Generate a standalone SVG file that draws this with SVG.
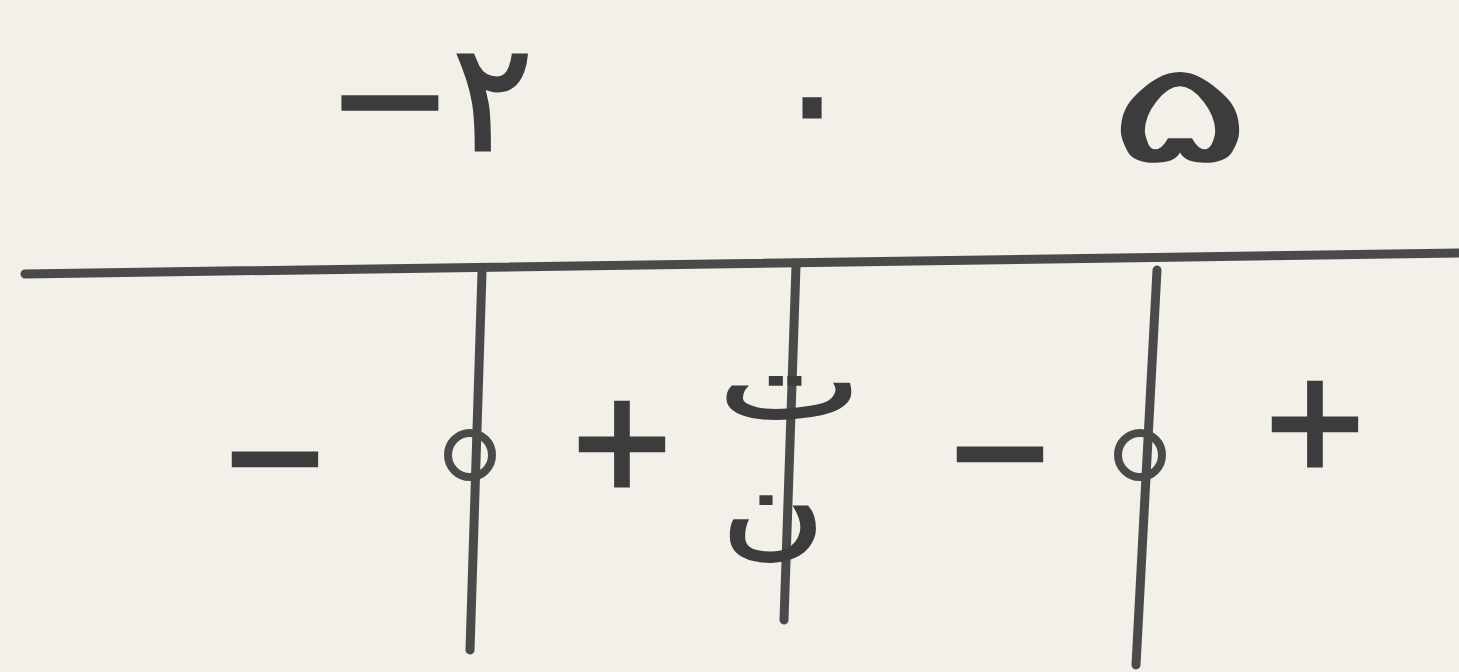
<svg xmlns="http://www.w3.org/2000/svg" width="1459" height="672" viewBox="0 0 1459 672">
<style>
.ln{stroke:#4a4a4a;stroke-width:9;stroke-linecap:round;fill:none}
.t{font-family:"DejaVu Sans",sans-serif;fill:#3c3c3c;stroke:#3c3c3c;text-anchor:middle}
.s{font-size:130px;stroke-width:5}
.c{fill:none;stroke:#4a4a4a;stroke-width:8}
</style>
<rect width="1459" height="672" fill="#f2f0e8"/>
<g id="connectors">
<path class="ln" d="M25 274 L1459 253"/>
<path class="ln" d="M482 272 L470 650"/>
<path class="ln" d="M796 266 L784 620"/>
<path class="ln" d="M1157 270 L1136 665"/>
</g>
<g id="labels-top">
<text class="t" x="430" y="150" font-size="150" stroke-width="3">−۲</text>
<text class="t" x="812" y="150" font-size="150" stroke-width="3">۰</text>
<text class="t" font-size="140" stroke-width="0" transform="translate(1180 162) scale(1.95 1)">۵</text>
</g>
<g id="sign1"><text class="t s" x="275" y="500">−</text></g>
<g id="root1"><circle class="c" cx="470" cy="455" r="22"/></g>
<g id="sign2"><text class="t s" x="622" y="485">+</text></g>
<g id="undef">
<text class="t" font-size="105" stroke-width="2" transform="translate(790 418) scale(1.45 1)">ت</text>
<text class="t" font-size="105" stroke-width="2" transform="translate(773 545) scale(1.35 1)">ن</text>
</g>
<g id="sign3"><text class="t s" x="1000" y="495">−</text></g>
<g id="root2"><circle class="c" cx="1140" cy="455" r="22"/></g>
<g id="sign4"><text class="t s" x="1315" y="465">+</text></g>
</svg>
